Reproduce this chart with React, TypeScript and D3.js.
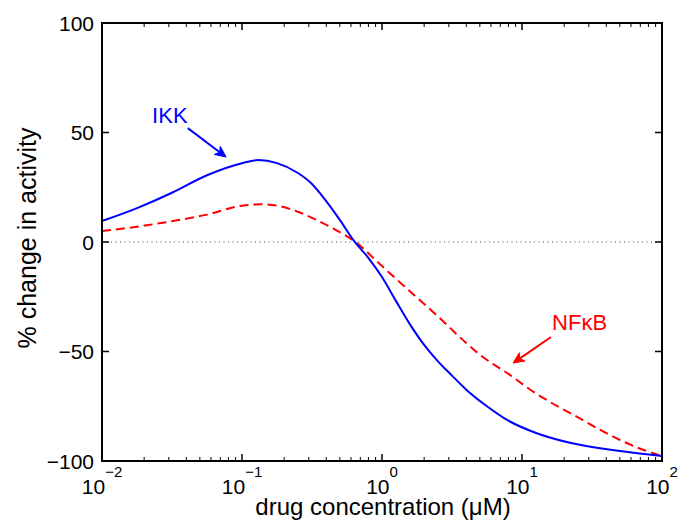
import React from "react";
import * as d3 from "d3";

// Drug concentration (µM) and % change in activity for each readout
const ikkConc = [0.01, 0.0178, 0.0316, 0.0562, 0.1, 0.13, 0.178, 0.251, 0.316, 0.398, 0.501, 0.631, 0.794, 1, 1.26, 1.58, 2, 2.51, 3.16, 3.98, 5.62, 7.94, 12.6, 22.4, 50.1, 100];
const ikkChange = [9.6, 15.5, 22.5, 30.5, 36, 37.4, 36, 31.5, 26.5, 18.8, 10, 0.5, -7, -16, -27, -37.5, -47, -54.5, -61, -67.3, -75, -81.5, -87.2, -91.8, -95.4, -97.7];

const nfkbConc = [0.01, 0.0178, 0.0316, 0.0562, 0.1, 0.135, 0.178, 0.251, 0.355, 0.447, 0.631, 1, 1.58, 2.51, 3.98, 5.01, 6.31, 8.2, 11.2, 15.8, 25.7, 35.5, 50.1, 70.8, 100];
const nfkbChange = [5.0, 7, 9.5, 12.5, 16.6, 17.2, 16.6, 13.8, 9.5, 6.2, 0.5, -11, -22.5, -34, -46, -51.5, -56, -60.7, -67, -73, -80.4, -85.5, -90.4, -94.5, -97.7];

const xTickExponents = [-2, -1, 0, 1, 2];
const yTicks = [-100, -50, 0, 50, 100];

// Annotation arrows: label anchor, arrow tail and tip, in data units
const ikkNote = { text: "IKK", label: [0.0228, 54.3], tail: [0.041, 52], tip: [0.077, 38.8] };
const nfkbNote = { text: "NFκB", label: [16.4, -40.2], tail: [16.1, -43.4], tip: [8.63, -55.3] };

const W = 681;
const H = 521;
const left = 102;
const right = 662;
const top = 23;
const bottom = 461;
const font = "'Liberation Sans', Arial, Helvetica, sans-serif";

export default function App() {
  const x = d3.scaleLog().domain([0.01, 100]).range([left, right]);
  const y = d3.scaleLinear().domain([-100, 100]).range([bottom, top]);

  const line = d3
    .line<[number, number]>()
    .x((d) => x(d[0]))
    .y((d) => y(d[1]))
    .curve(d3.curveMonotoneX);

  const ikkPath = line(ikkConc.map((c, i) => [c, ikkChange[i]] as [number, number])) || "";
  const nfkbPath = line(nfkbConc.map((c, i) => [c, nfkbChange[i]] as [number, number])) || "";

  const minorTicks: number[] = [];
  for (let e = -2; e < 2; e++) {
    for (let m = 2; m <= 9; m++) minorTicks.push(m * Math.pow(10, e));
  }

  const arrow = (note: typeof ikkNote, color: string) => {
    const x0 = x(note.tail[0]);
    const y0 = y(note.tail[1]);
    const x1 = x(note.tip[0]);
    const y1 = y(note.tip[1]);
    const ang = Math.atan2(y1 - y0, x1 - x0);
    const len = 11;
    const half = 5;
    const bx = x1 - len * Math.cos(ang);
    const by = y1 - len * Math.sin(ang);
    const nx = -Math.sin(ang);
    const ny = Math.cos(ang);
    const back = 3;
    const cx = x1 - (len - back) * Math.cos(ang);
    const cy = y1 - (len - back) * Math.sin(ang);
    const head = `M${x1},${y1} L${bx + nx * half},${by + ny * half} L${cx},${cy} L${bx - nx * half},${by - ny * half} Z`;
    return (
      <g>
        <line x1={x0} y1={y0} x2={cx} y2={cy} stroke={color} strokeWidth={2} />
        <path d={head} fill={color} stroke={color} strokeWidth={1} strokeLinejoin="miter" />
        <text x={x(note.label[0])} y={y(note.label[1])} fill={color} fontSize={22} fontFamily={font}>
          {note.text}
        </text>
      </g>
    );
  };

  return (
    <svg width={W} height={H} style={{ position: "absolute", left: 0, top: 0, background: "#fff" }}>
      <rect width={W} height={H} fill="#fff" />
      {/* zero reference line */}
      <line x1={left} x2={right} y1={y(0)} y2={y(0)} stroke="#444" strokeWidth={1} strokeDasharray="1,3.5" />

      <path d={nfkbPath} fill="none" stroke="#ff0000" strokeWidth={2} strokeDasharray="9,5" />
      <path d={ikkPath} fill="none" stroke="#0000ff" strokeWidth={2} />

      {/* x ticks, bottom and top */}
      {minorTicks.map((t) => (
        <g key={"m" + t}>
          <line x1={x(t)} x2={x(t)} y1={bottom} y2={bottom - 4} stroke="#000" strokeWidth={1} />
          <line x1={x(t)} x2={x(t)} y1={top} y2={top + 4} stroke="#000" strokeWidth={1} />
        </g>
      ))}
      {xTickExponents.map((e) => {
        const v = Math.pow(10, e);
        return (
          <g key={"x" + e}>
            <line x1={x(v)} x2={x(v)} y1={bottom} y2={bottom - 7} stroke="#000" strokeWidth={1.5} />
            <line x1={x(v)} x2={x(v)} y1={top} y2={top + 7} stroke="#000" strokeWidth={1.5} />
            <text x={x(v)} y={494} textAnchor="middle" fontSize={21} fontFamily={font} fill="#000">
              10
              <tspan fontSize={15} dy={-17}>
                {e < 0 ? "−" + Math.abs(e) : String(e)}
              </tspan>
            </text>
          </g>
        );
      })}

      {/* y ticks, left and right */}
      {yTicks.map((t) => (
        <g key={"y" + t}>
          <line x1={left} x2={left + 7} y1={y(t)} y2={y(t)} stroke="#000" strokeWidth={1.5} />
          <line x1={right} x2={right - 7} y1={y(t)} y2={y(t)} stroke="#000" strokeWidth={1.5} />
          <text x={94} y={y(t)} dy="0.36em" textAnchor="end" fontSize={21} fontFamily={font} fill="#000">
            {t < 0 ? "−" + Math.abs(t) : String(t)}
          </text>
        </g>
      ))}

      <rect x={left} y={top} width={right - left} height={bottom - top} fill="none" stroke="#000" strokeWidth={2} />

      {arrow(ikkNote, "#0000ff")}
      {arrow(nfkbNote, "#ff0000")}

      <text x={383} y={515} textAnchor="middle" fontSize={24} fontFamily={font} fill="#000">
        drug concentration (μM)
      </text>
      <text
        transform={`translate(36,238) rotate(-90)`}
        textAnchor="middle"
        fontSize={25}
        fontFamily={font}
        fill="#000"
      >
        % change in activity
      </text>
    </svg>
  );
}
